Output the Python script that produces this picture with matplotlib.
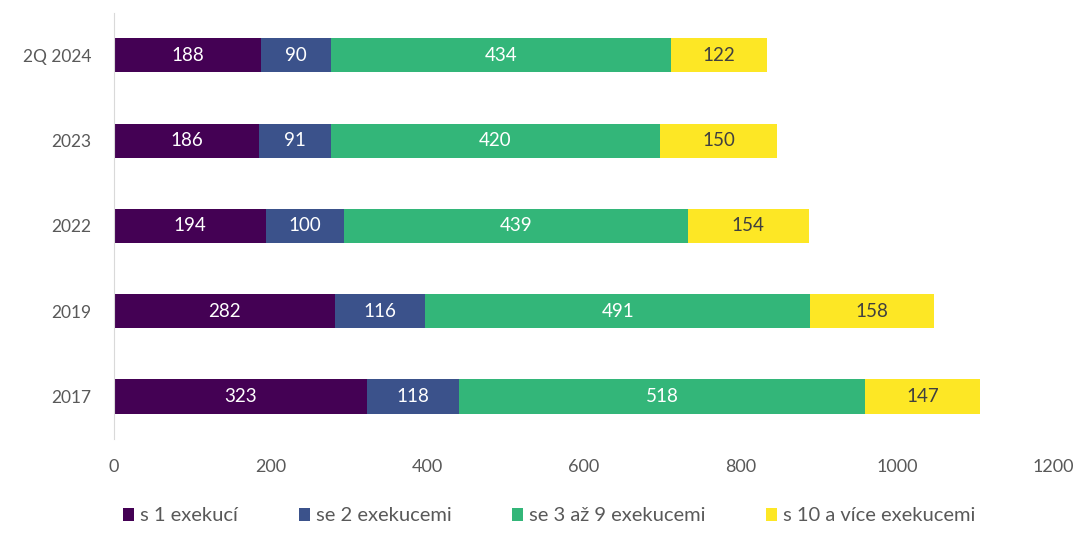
import numpy as np
import matplotlib.pyplot as plt

plt.rcParams['font.family'] = ['Lato', 'DejaVu Sans']

years = ['2Q 2024', '2023', '2022', '2019', '2017']
s1 = [188, 186, 194, 282, 323]
s2 = [90, 91, 100, 116, 118]
s3_9 = [434, 420, 439, 491, 518]
s10 = [122, 150, 154, 158, 147]

series = [s1, s2, s3_9, s10]
names = ['s 1 exekucí', 'se 2 exekucemi', 'se 3 až 9 exekucemi', 's 10 a více exekucemi']
colors = ['#440154', '#3b528b', '#33b679', '#fde725']
text_colors = ['white', 'white', 'white', '#404040']


def plot_bars():
    fig = plt.figure(figsize=(10.73, 5.33), dpi=100)
    ax = fig.add_axes([0.106, 0.176, 0.876, 0.8])
    y = np.arange(len(years))
    left = np.zeros(len(years))
    for vals, name, c, tc in zip(series, names, colors, text_colors):
        bars = ax.barh(y, vals, left=left, height=0.4, color=c, label=name)
        ax.bar_label(bars, labels=[str(v) for v in vals], label_type='center',
                     color=tc, fontsize=13.5)
        left += np.array(vals)
    ax.set_yticks(y)
    ax.set_ylim(len(years) - 0.5, -0.5)
    ax.set_xlim(0, 1200)
    ax.set_xticks(range(0, 1201, 200))
    ax.tick_params(length=0, labelsize=13, labelcolor='#595959')
    ax.tick_params(axis='x', pad=14)
    ax.tick_params(axis='y', pad=16)
    ax.set_yticklabels(years, fontsize=12.5)
    for s in ['top', 'right', 'bottom']:
        ax.spines[s].set_visible(False)
    ax.spines['left'].set_color('#d9d9d9')
    fig.legend(loc='lower center', bbox_to_anchor=(0.512, -0.018), ncol=4,
               frameon=False, fontsize=14.5, handlelength=0.55, handleheight=0.65,
               handletextpad=0.3, columnspacing=3.0, labelcolor='#595959')
    fig.savefig('out.png', dpi=100)


def main():
    plot_bars()


if __name__ == "__main__":
    main()
